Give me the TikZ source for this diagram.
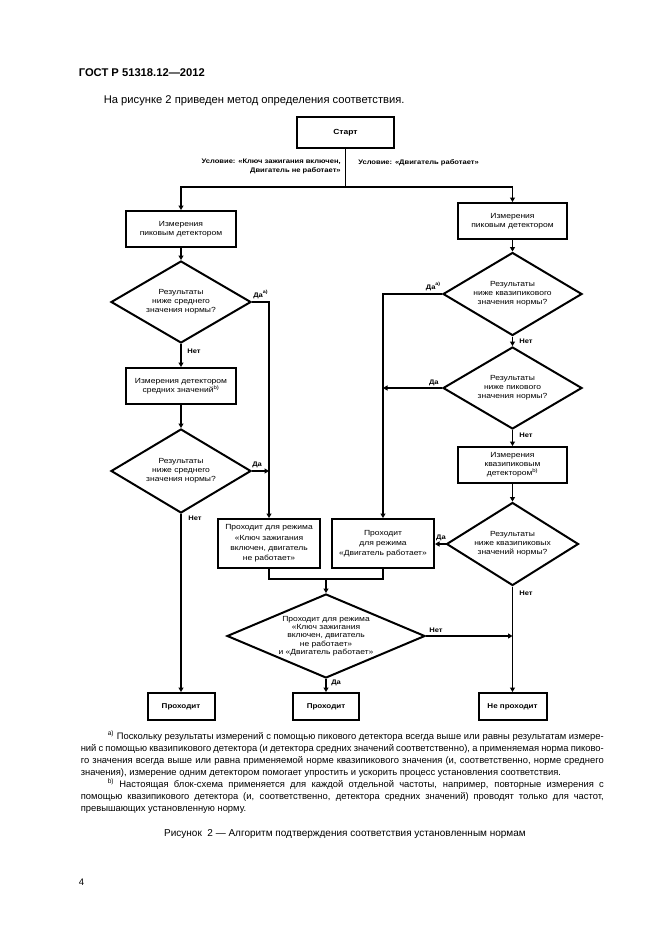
\documentclass[tikz,border=0pt]{standalone}
\usepackage{fontspec}
\setmainfont{Liberation Sans}
\newfontfamily\dfont{Liberation Sans}[FakeStretch=1.15]
\usetikzlibrary{shapes.geometric,arrows.meta}
\begin{document}
\begin{tikzpicture}[x=1pt,y=-1pt,
  line width=1.6pt,
  arr/.style={-{Triangle[length=4.5pt,width=5pt]}},
  box/.style={draw, line width=2pt, inner sep=0pt, align=center,
    font=\dfont\fontsize{7.4}{9.5}\selectfont},
  dia/.style={draw, diamond, line width=2pt, inner sep=0pt},
  dtext/.style={align=center, inner sep=0pt, font=\dfont\fontsize{7.4}{9}\selectfont},
  lab/.style={inner sep=0.5pt, font=\dfont\bfseries\fontsize{6.6}{8.5}\selectfont},
  body/.style={inner sep=0pt, font=\fontsize{11.2}{13}\selectfont}
]
\fill[white] (0,0) rectangle (661,936);
\useasboundingbox (0,0) rectangle (661,936);

% page texts
\node[body, anchor=base west, font=\bfseries\fontsize{11.2}{13}\selectfont] (hdr) at (78,77) {ГОСТ Р 51318.12—2012};
\node[body, anchor=base west] (intro) at (103,104) {На рисунке 2 приведен метод определения соответствия.};

% start
\node[box, minimum width=97pt, minimum height=31pt, font=\dfont\bfseries\fontsize{7.4}{9.5}\selectfont] (start) at (345.5,132.5) {Старт};
\coordinate (hy) at (0,187);
\coordinate (split) at (start.south |- hy);
\node[lab, anchor=north east, align=right] (cl) at (342,158) {Условие: «Ключ зажигания включен,\\Двигатель не работает»};
\node[lab, anchor=north west] (cr) at (357,158) {Условие: «Двигатель работает»};

% left column
\node[box, minimum width=110pt, minimum height=36pt] (m1) at (181,229) {Измерения\\пиковым детектором};
\node[dia, minimum width=140pt, minimum height=82pt] (d1) at (181,302) {};
\node[dtext] (d1t) at (d1.center) {Результаты\\ниже среднего\\значения нормы?};
\node[box, minimum width=110pt, minimum height=36pt] (m2) at (181,386) {Измерения детектором\\средних значений\textsuperscript{b)}};
\node[dia, minimum width=140pt, minimum height=84pt] (d2) at (181,471) {};
\node[dtext] (d2t) at (d2.center) {Результаты\\ниже среднего\\значения нормы?};

% right column
\node[box, minimum width=109pt, minimum height=36pt] (r1) at (512.5,221) {Измерения\\пиковым детектором};
\node[dia, minimum width=139pt, minimum height=83pt] (rd1) at (512.5,294) {};
\node[dtext] (rd1t) at (rd1.center) {Результаты\\ниже квазипикового\\значения нормы?};
\node[dia, minimum width=139pt, minimum height=82pt] (rd2) at (512.5,388) {};
\node[dtext] (rd2t) at (rd2.center) {Результаты\\ниже пикового\\значения нормы?};
\node[box, minimum width=109pt, minimum height=36pt, font=\dfont\fontsize{7.4}{9}\selectfont] (r2) at (512.5,465) {Измерения\\квазипиковым\\детектором\textsuperscript{b)}};
\node[dia, minimum width=132pt, minimum height=83pt] (rd3) at (512.5,544) {};
\node[dtext] (rd3t) at (rd3.center) {Результаты\\ниже квазипиковых\\значений нормы?};

% middle
\node[box, minimum width=102pt, minimum height=49pt, font=\dfont\fontsize{7.4}{10.3}\selectfont] (b1) at (269,543.5) {Проходит для режима\\«Ключ зажигания\\включен, двигатель\\не работает»};
\node[box, minimum width=102pt, minimum height=49pt, font=\dfont\fontsize{7.4}{10}\selectfont] (b2) at (383,543.5) {Проходит\\для режима\\«Двигатель работает»};
\coordinate (jn) at (326,579);
\node[dia, minimum width=198pt, minimum height=84pt] (bd) at (326,636) {};
\node[dtext, font=\dfont\fontsize{7.4}{8.3}\selectfont] (bdt) at (bd.center) {Проходит для режима\\«Ключ зажигания\\включен, двигатель\\не работает»\\и «Двигатель работает»};

% bottom
\node[box, minimum width=67pt, minimum height=27pt, font=\dfont\bfseries\fontsize{7}{9}\selectfont] (p1) at (181,706.5) {Проходит};
\node[box, minimum width=66pt, minimum height=27pt, font=\dfont\bfseries\fontsize{7}{9}\selectfont] (p2) at (326,706.5) {Проходит};
\node[box, minimum width=68pt, minimum height=27pt, font=\dfont\bfseries\fontsize{7}{9}\selectfont] (np) at (512.5,706.5) {Не проходит};

% connectors
\draw (start.south) -- (split);
\draw[arr] (split) -| (m1.north);
\draw[arr] (split) -| (r1.north);
\draw[arr] (m1.south) -- (d1.north);
\draw[arr] (d1.south) -- (m2.north);
\draw[arr] (m2.south) -- (d2.north);
\draw[arr] (d2.south) -- (p1.north);
\draw[arr] (d1.east) -| (b1.north);
\draw[arr] (d2.east) -- (d2.east -| b1.north);
\draw[arr] (r1.south) -- (rd1.north);
\draw[arr] (rd1.south) -- (rd2.north);
\draw[arr] (rd2.south) -- (r2.north);
\draw[arr] (r2.south) -- (rd3.north);
\draw[arr] (rd3.south) -- (np.north);
\draw[arr] (rd1.west) -| (b2.north);
\draw[arr] (rd2.west) -- (rd2.west -| b2.north);
\draw[arr] (rd3.west) -- (rd3.west -| b2.east);
\draw (b1.south) |- (jn) -| (b2.south);
\draw[arr] (jn) -- (bd.north);
\draw[arr] (bd.east) -- (bd.east -| np.north);
\draw[arr] (bd.south) -- (p2.north);

% labels
\node[lab, anchor=base west] (l1) at (252,297) {Да\textsuperscript{a)}};
\node[lab, anchor=west] (l2) at (186,351) {Нет};
\node[lab, anchor=base west] (l3) at (251,466) {Да};
\node[lab, anchor=west] (l4) at (187,518) {Нет};
\node[lab, anchor=base east] (l5) at (442,289) {Да\textsuperscript{a)}};
\node[lab, anchor=west] (l6) at (518,341) {Нет};
\node[lab, anchor=base east] (l7) at (440,384) {Да};
\node[lab, anchor=west] (l8) at (518,435) {Нет};
\node[lab, anchor=base] (l9) at (441,539) {Да};
\node[lab, anchor=west] (l10) at (518,593) {Нет};
\node[lab, anchor=base west] (l11) at (428,632) {Нет};
\node[lab, anchor=west] (l12) at (330,683) {Да};

% footnotes
\node[inner sep=0pt, anchor=north west, align=left, font=\fontsize{9.4}{12}\selectfont] (fn) at (80,730) {%
\makebox[523pt][s]{\hspace*{27pt}\textsuperscript{a)} Поскольку результаты измерений с помощью пикового детектора всегда выше или равны результатам измере-}\\
\makebox[523pt][s]{ний с помощью квазипикового детектора (и детектора средних значений соответственно), а применяемая норма пиково-}\\
\makebox[523pt][s]{го значения всегда выше или равна применяемой норме квазипикового значения (и, соответственно, норме среднего}\\
значения), измерение одним детектором помогает упростить и ускорить процесс установления соответствия.\\
\makebox[523pt][s]{\hspace*{27pt}\textsuperscript{b)} Настоящая блок-схема применяется для каждой отдельной частоты, например, повторные измерения с}\\
\makebox[523pt][s]{помощью квазипикового детектора (и, соответственно, детектора средних значений) проводят только для частот,}\\
превышающих установленную норму.};
\node[inner sep=0pt, anchor=base, font=\fontsize{10}{12}\selectfont] (cap) at (345,836) {Рисунок\ \ 2 — Алгоритм подтверждения соответствия установленным нормам};
\node[inner sep=0pt, anchor=base west, font=\fontsize{9.5}{11}\selectfont] (pg) at (78,885) {4};
\end{tikzpicture}
\end{document}
